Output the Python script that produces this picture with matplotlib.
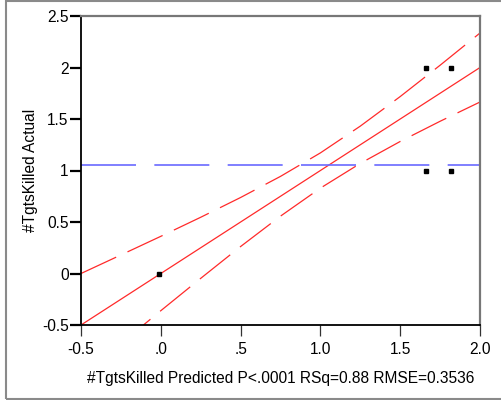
import matplotlib.pyplot as plt
import matplotlib.patches as mpatches
import numpy as np

plt.rcParams['font.family'] = ['Liberation Sans', 'DejaVu Sans']

# observed points (predicted, actual)
pred = [-0.01, 1.66, 1.82, 1.66, 1.82]
actual = [0, 2, 2, 1, 1]
mean_actual = 1.05

# fit line and confidence curves
fit_x = [-0.5, 2.0]
fit_y = [-0.5, 2.0]
band_x = [-0.5, -0.25, 0.0, 0.25, 0.5, 0.75, 1.0, 1.25, 1.5, 1.75, 2.0]
band_hi = [0.0, 0.18, 0.361, 0.546, 0.738, 0.943, 1.171, 1.431, 1.718, 2.022, 2.335]
band_lo = [-1.0, -0.68, -0.361, -0.047, 0.262, 0.557, 0.829, 1.069, 1.282, 1.478, 1.665]

xticks = [-0.5, 0.0, 0.5, 1.0, 1.5, 2.0]
xticklabels = ['-0.5', '.0', '.5', '1.0', '1.5', '2.0']
yticks = [-0.5, 0, 0.5, 1, 1.5, 2, 2.5]
yticklabels = ['-0.5', '0', '0.5', '1', '1.5', '2', '2.5']

fig = plt.figure(figsize=(5.02, 4.0), dpi=100)
ax = fig.add_axes([0.1614, 0.1875, 0.7948, 0.7725])

red = '#ff2a2a'
ax.plot(fit_x, fit_y, color=red, lw=0.9)
for b in (band_hi, band_lo):
    ln, = ax.plot(band_x, b, color=red, lw=0.9)
    ln.set_dashes((31, 10))
ax.axhline(mean_actual, color='#6a6aff', lw=1.2, dashes=(33, 11))
ax.plot(pred, actual, 's', color='black', ms=3.3, zorder=5)

ax.set_xlim(-0.5, 2.0)
ax.set_ylim(-0.5, 2.5)
ax.set_xticks(xticks)
ax.set_xticklabels(xticklabels)
ax.set_yticks(yticks)
ax.set_yticklabels(yticklabels)
ax.tick_params(axis='y', length=8, width=1.6, color='black', labelsize=11.2, pad=1)
ax.tick_params(axis='x', length=8, width=0.9, color='#333333', labelsize=11.2, pad=4)

for s in ('left', 'bottom'):
    ax.spines[s].set_color('black')
    ax.spines[s].set_linewidth(1.3)
for s in ('top', 'right'):
    ax.spines[s].set_color('#777777')
    ax.spines[s].set_linewidth(1.6)

ax.set_xlabel('#TgtsKilled Predicted P<.0001 RSq=0.88 RMSE=0.3536', fontsize=11.2, labelpad=10)
ax.set_ylabel('#TgtsKilled Actual', fontsize=11.2, labelpad=3)

# outer frame
frame = mpatches.Rectangle((6 / 502, 1 / 400), 1.0, 398 / 400, transform=fig.transFigure,
                           fill=False, edgecolor='#8a8a8a', lw=1.5, clip_on=False)
fig.patches.append(frame)

fig.savefig('out.png', dpi=100)
